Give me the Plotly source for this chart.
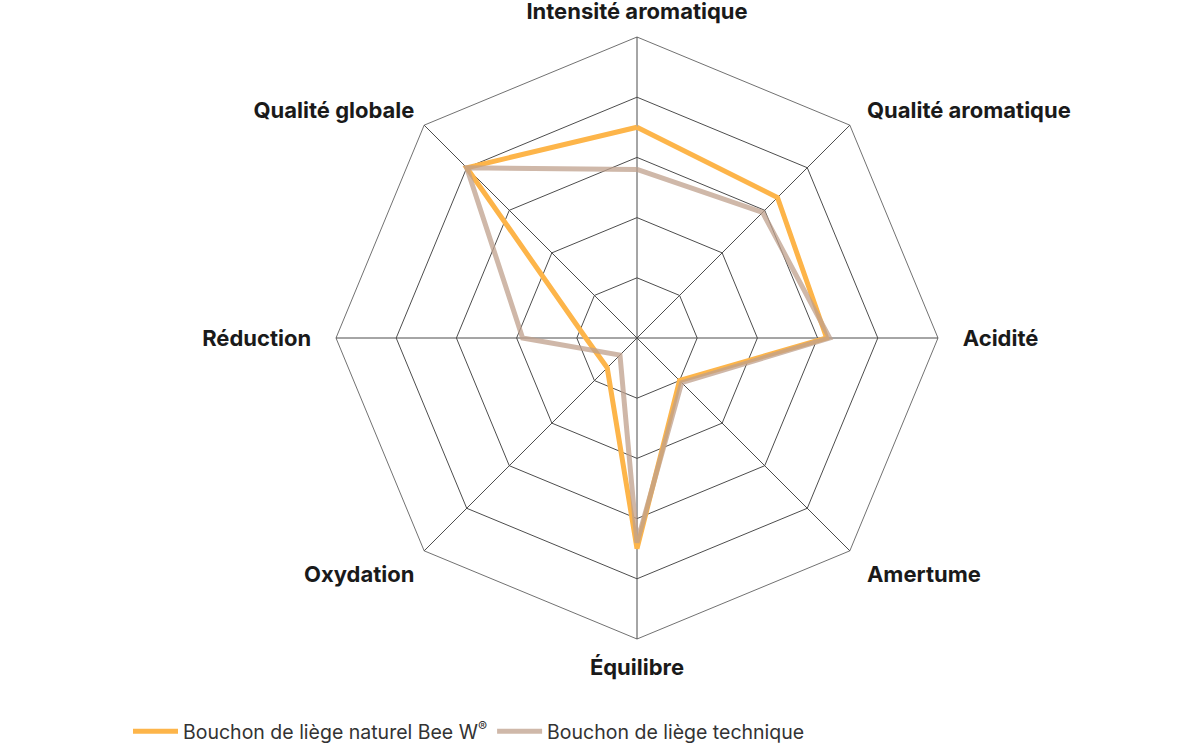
import plotly.graph_objects as go

categories = ["Intensité aromatique", "Qualité aromatique", "Acidité", "Amertume",
              "Équilibre", "Oxydation", "Réduction", "Qualité globale"]
bee_w = [3.5, 3.3, 3.15, 1.0, 3.5, 0.7, 0.85, 4.0]
technique = [2.8, 2.95, 3.2, 1.05, 3.4, 0.4, 1.9, 4.0]
series_names = ["Bouchon de liège naturel Bee W<sup>®</sup>", "Bouchon de liège technique"]

# tick labels (some padded so they sit a little further from the grid)
sp = "\u2002"
thin = "\u2006\u2006"
tick_labels = ["Intensité aromatique", thin + "Qualité aromatique", sp + "Acidité",
               thin + "Amertume", "Équilibre", "Oxydation", "Réduction" + sp, "Qualité globale"]

W, H = 1200, 751
cx, cy, R = 637, 338, 301

fig = go.Figure()
fig.add_trace(go.Scatterpolar(
    r=bee_w + bee_w[:1], theta=categories + categories[:1],
    mode="lines", name=series_names[0],
    line=dict(color="#FDB54A", width=5),
))
fig.add_trace(go.Scatterpolar(
    r=technique + technique[:1], theta=categories + categories[:1],
    mode="lines", name=series_names[1],
    line=dict(color="#BFA08C", width=5), opacity=0.75,
))

fig.update_layout(
    width=W, height=H,
    margin=dict(l=0, r=0, t=0, b=0),
    paper_bgcolor="white", plot_bgcolor="white",
    font=dict(family="Inter", color="#1a1a1a"),
    polar=dict(
        domain=dict(x=[(cx - R) / W, (cx + R) / W],
                    y=[(H - cy - R) / H, (H - cy + R) / H]),
        bgcolor="white",
        gridshape="linear",
        radialaxis=dict(range=[0, 5], dtick=1, showticklabels=False, ticks="",
                        showline=False, gridcolor="#4d4d4d", gridwidth=0.8),
        angularaxis=dict(direction="clockwise", rotation=90,
                         tickmode="array", tickvals=categories, ticktext=tick_labels,
                         linecolor="#4d4d4d", linewidth=0.8,
                         gridcolor="#4d4d4d", gridwidth=0.8,
                         ticks="outside", ticklen=9, tickcolor="rgba(0,0,0,0)",
                         tickfont=dict(family="Inter", size=22, color="#1a1a1a", weight=700)),
    ),
    legend=dict(orientation="h", x=128 / W, xanchor="left", y=0, yanchor="bottom",
                font=dict(family="Inter", size=19.5, color="#333333"),
                itemwidth=45, bgcolor="rgba(0,0,0,0)"),
    showlegend=True,
)

fig.write_html(
    "out.html",
    config={"displayModeBar": False},
    post_script="document.body.style.margin='0px';"
                "document.body.style.overflow='hidden';"
                "document.documentElement.style.overflow='hidden';",
)
